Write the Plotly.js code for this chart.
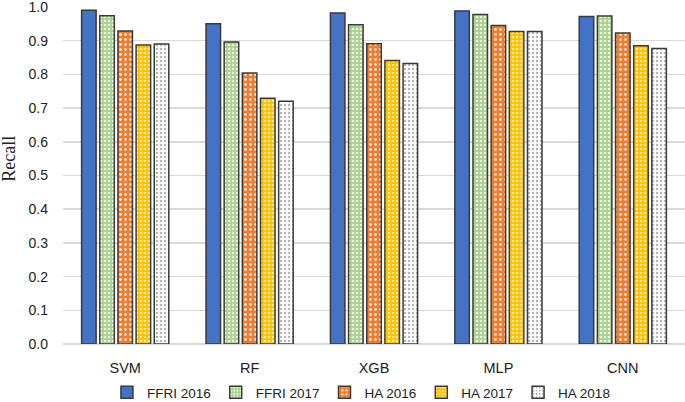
<!DOCTYPE html>
<html>
<head>
<meta charset="utf-8">
<script src="https://cdn.plot.ly/plotly-3.0.1.min.js"></script>
<style>html,body{margin:0;padding:0;background:#fff;}#chart{width:685px;height:402px;}</style>
</head>
<body>
<div id="chart"></div>
<script>
const categories = ["SVM", "RF", "XGB", "MLP", "CNN"];
const seriesNames = ["FFRI 2016", "FFRI 2017", "HA 2016", "HA 2017", "HA 2018"];
const ffri2016 = [0.990, 0.950, 0.982, 0.988, 0.972];
const ffri2017 = [0.974, 0.896, 0.947, 0.978, 0.973];
const ha2016   = [0.929, 0.804, 0.891, 0.945, 0.923];
const ha2017   = [0.887, 0.729, 0.841, 0.927, 0.885];
const ha2018   = [0.890, 0.720, 0.832, 0.927, 0.877];
const yTicks = [0, 0.1, 0.2, 0.3, 0.4, 0.5, 0.6, 0.7, 0.8, 0.9, 1.0];
const yTitle = "Recall";

const values = [ffri2016, ffri2017, ha2016, ha2017, ha2018];
const styles = [
  {color: "#4472c4", pattern: null},
  {color: "#a9d18e", pattern: {shape: ".", bgcolor: "#a9d18e", fgcolor: "#eaf5df", size: 4, solidity: 0.35}},
  {color: "#ed7d31", pattern: {shape: ".", bgcolor: "#ed7d31", fgcolor: "#fbe0cc", size: 5, solidity: 0.25}},
  {color: "#ffc000", pattern: {shape: ".", bgcolor: "#ffc000", fgcolor: "#ffeaa0", size: 4, solidity: 0.35}},
  {color: "#ffffff", pattern: {shape: ".", bgcolor: "#ffffff", fgcolor: "#b8b8b8", size: 4, solidity: 0.3}}
];

const traces = values.map((v, i) => {
  const m = {color: styles[i].color, line: {color: "#3a3a3a", width: 1.5}};
  if (styles[i].pattern) m.pattern = styles[i].pattern;
  return {type: "bar", name: seriesNames[i], x: categories, y: v, marker: m, hoverinfo: "none"};
});

const layout = {
  width: 685, height: 402,
  margin: {l: 63, r: 0, t: 7, b: 58},
  paper_bgcolor: "#fff", plot_bgcolor: "#fff",
  barmode: "group", bargap: 0.27, bargroupgap: 0.2,
  font: {family: "Liberation Sans, Arial, sans-serif", size: 14, color: "#222"},
  xaxis: {showgrid: false, showline: false, zeroline: false, ticks: "", tickfont: {size: 14.5}, ticklabelstandoff: 13},
  yaxis: {range: [0, 1.0], tickvals: yTicks, tickformat: ".1f", showgrid: true, gridcolor: "#d9d9d9", gridwidth: 1.5,
          zeroline: true, zerolinecolor: "#d9d9d9", zerolinewidth: 1.5, showline: false, ticks: "",
          tickfont: {size: 14}, ticklabelstandoff: 14, ticklabeloverflow: "allow"},
  annotations: [{text: yTitle, xref: "paper", yref: "paper", x: -0.0868, y: 0.55, xanchor: "center", yanchor: "middle",
                 textangle: -90, showarrow: false, font: {family: "Liberation Serif, Times New Roman, serif", size: 18, color: "#222"}}],
  legend: {orientation: "h", xref: "paper", x: 0.479, xanchor: "center", yref: "container", y: 0.062, yanchor: "top",
           font: {size: 13.5}, traceorder: "normal", itemwidth: 30},
  showlegend: true
};

Plotly.newPlot("chart", traces, layout, {staticPlot: true, displayModeBar: false});
</script>
</body>
</html>
